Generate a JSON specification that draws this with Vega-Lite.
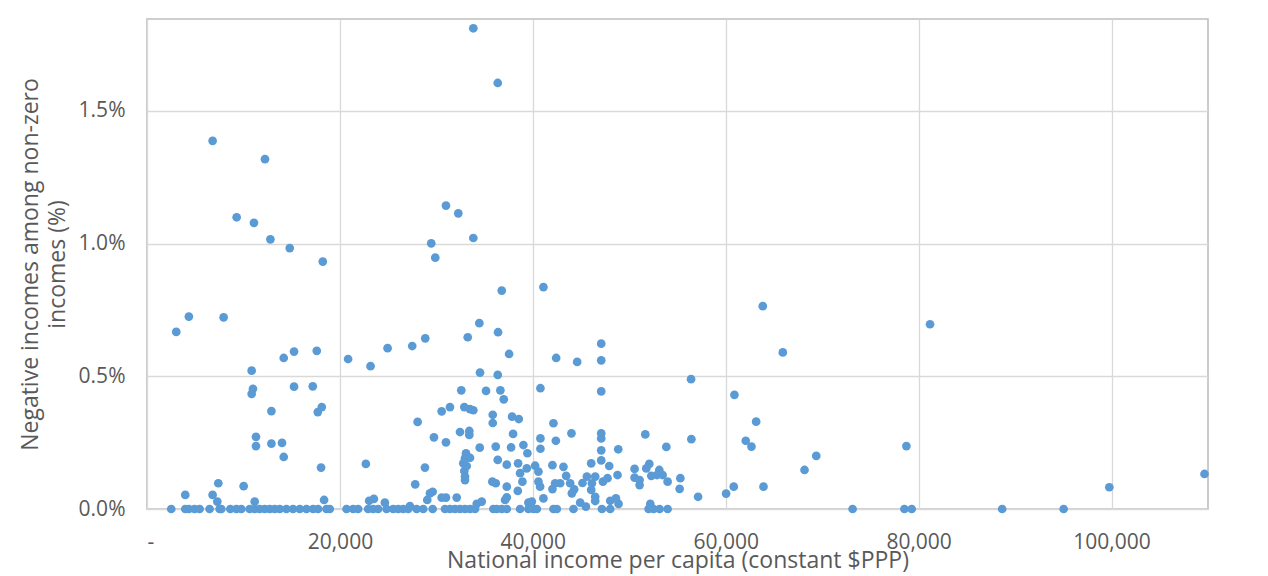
{
  "$schema": "https://vega.github.io/schema/vega-lite/v6.json",
  "width": 1061,
  "height": 490,
  "autosize": {"type": "none"},
  "padding": {"left": 147, "top": 19, "right": 60, "bottom": 67},
  "background": "white",
  "config": {
    "view": {"stroke": "#bfbfbf", "strokeWidth": 1.6},
    "axis": {
      "domain": false,
      "ticks": false,
      "grid": true,
      "gridColor": "#d9d9d9",
      "gridWidth": 1.3,
      "labelFont": "Open Sans",
      "labelFontSize": 21,
      "labelColor": "#595959",
      "titleFont": "Open Sans",
      "titleFontSize": 23,
      "titleFontWeight": "normal",
      "titleColor": "#595959"
    }
  },
  "data": {
    "values": [
      {"income": 33831, "neg": 0.01811}, {"income": 36365, "neg": 0.01605}, {"income": 6802, "neg": 0.01387}, {"income": 12232, "neg": 0.01318},
      {"income": 9294, "neg": 0.01099}, {"income": 11090, "neg": 0.01078}, {"income": 12793, "neg": 0.01016}, {"income": 14797, "neg": 0.00983},
      {"income": 18224, "neg": 0.00932}, {"income": 30996, "neg": 0.01143}, {"income": 32273, "neg": 0.01114}, {"income": 33831, "neg": 0.01021},
      {"income": 29470, "neg": 0.01001}, {"income": 29885, "neg": 0.00947}, {"income": 36780, "neg": 0.00823}, {"income": 41100, "neg": 0.00836},
      {"income": 3032, "neg": 0.00667}, {"income": 4341, "neg": 0.00725}, {"income": 7944, "neg": 0.00722}, {"income": 10851, "neg": 0.00521},
      {"income": 10986, "neg": 0.00453}, {"income": 10851, "neg": 0.00434}, {"income": 14174, "neg": 0.00569}, {"income": 15244, "neg": 0.00593},
      {"income": 17601, "neg": 0.00596}, {"income": 15244, "neg": 0.00461}, {"income": 17186, "neg": 0.00462}, {"income": 12897, "neg": 0.00369},
      {"income": 18120, "neg": 0.00384}, {"income": 17705, "neg": 0.00365}, {"income": 11298, "neg": 0.00272}, {"income": 11298, "neg": 0.00237},
      {"income": 12897, "neg": 0.00246}, {"income": 13998, "neg": 0.00249}, {"income": 14174, "neg": 0.00196}, {"income": 18047, "neg": 0.00156},
      {"income": 20851, "neg": 0.00565}, {"income": 23177, "neg": 0.00538}, {"income": 24943, "neg": 0.00606}, {"income": 27497, "neg": 0.00614},
      {"income": 28847, "neg": 0.00643}, {"income": 33250, "neg": 0.00647}, {"income": 34454, "neg": 0.007}, {"income": 36396, "neg": 0.00666},
      {"income": 37539, "neg": 0.00584}, {"income": 42419, "neg": 0.00569}, {"income": 34527, "neg": 0.00514}, {"income": 36365, "neg": 0.00505},
      {"income": 32585, "neg": 0.00447}, {"income": 35150, "neg": 0.00445}, {"income": 36635, "neg": 0.00447}, {"income": 36988, "neg": 0.00413},
      {"income": 40788, "neg": 0.00455}, {"income": 30550, "neg": 0.00368}, {"income": 31412, "neg": 0.00384}, {"income": 32897, "neg": 0.00384},
      {"income": 33488, "neg": 0.00376}, {"income": 33831, "neg": 0.00372}, {"income": 35846, "neg": 0.00355}, {"income": 35846, "neg": 0.00324},
      {"income": 37850, "neg": 0.00348}, {"income": 38545, "neg": 0.00339}, {"income": 28058, "neg": 0.00328}, {"income": 32450, "neg": 0.0029},
      {"income": 33416, "neg": 0.00294}, {"income": 33416, "neg": 0.00279}, {"income": 29750, "neg": 0.0027}, {"income": 30996, "neg": 0.00251},
      {"income": 37954, "neg": 0.00283}, {"income": 42138, "neg": 0.00323}, {"income": 40788, "neg": 0.00266}, {"income": 42388, "neg": 0.00257},
      {"income": 34496, "neg": 0.00231}, {"income": 36157, "neg": 0.00235}, {"income": 37746, "neg": 0.00232}, {"income": 39023, "neg": 0.00241},
      {"income": 40788, "neg": 0.00227}, {"income": 39438, "neg": 0.0021}, {"income": 33073, "neg": 0.0021}, {"income": 32969, "neg": 0.00191},
      {"income": 33488, "neg": 0.00193}, {"income": 32793, "neg": 0.00172}, {"income": 33146, "neg": 0.00162}, {"income": 32897, "neg": 0.00143},
      {"income": 32969, "neg": 0.00122}, {"income": 32969, "neg": 0.00109}, {"income": 36365, "neg": 0.00185}, {"income": 37299, "neg": 0.00167},
      {"income": 38473, "neg": 0.00172}, {"income": 38680, "neg": 0.00135}, {"income": 39376, "neg": 0.00153}, {"income": 40238, "neg": 0.00163},
      {"income": 40581, "neg": 0.00141}, {"income": 42034, "neg": 0.00165}, {"income": 38919, "neg": 0.00103}, {"income": 35804, "neg": 0.00103},
      {"income": 36157, "neg": 0.00097}, {"income": 37299, "neg": 0.00084}, {"income": 38441, "neg": 0.00068}, {"income": 40581, "neg": 0.00103},
      {"income": 40757, "neg": 0.00084}, {"income": 41100, "neg": 0.0004}, {"income": 42034, "neg": 0.00075}, {"income": 42315, "neg": 0.00097},
      {"income": 27808, "neg": 0.00093}, {"income": 22689, "neg": 0.0017}, {"income": 28816, "neg": 0.00156}, {"income": 29615, "neg": 0.00065},
      {"income": 29335, "neg": 0.00059}, {"income": 30550, "neg": 0.00043}, {"income": 30996, "neg": 0.00043}, {"income": 32108, "neg": 0.00043},
      {"income": 29055, "neg": 0.00034}, {"income": 34184, "neg": 0.00019}, {"income": 34703, "neg": 0.00028}, {"income": 37123, "neg": 0.00034},
      {"income": 37299, "neg": 0.00044}, {"income": 39543, "neg": 0.00024}, {"income": 39895, "neg": 0.00028}, {"income": 3967, "neg": 0.00053},
      {"income": 6802, "neg": 0.00053}, {"income": 7393, "neg": 0.00097}, {"income": 7290, "neg": 0.00028}, {"income": 10021, "neg": 0.00086},
      {"income": 11163, "neg": 0.00028}, {"income": 18359, "neg": 0.00034}, {"income": 23032, "neg": 0.00031}, {"income": 23520, "neg": 0.00038},
      {"income": 24662, "neg": 0.00024}, {"income": 27258, "neg": 0.00011}, {"income": 63841, "neg": 0.00764}, {"income": 65918, "neg": 0.0059},
      {"income": 44599, "neg": 0.00554}, {"income": 47091, "neg": 0.00623}, {"income": 47091, "neg": 0.0056}, {"income": 47091, "neg": 0.00443},
      {"income": 56406, "neg": 0.00489}, {"income": 60902, "neg": 0.0043}, {"income": 44007, "neg": 0.00285}, {"income": 47091, "neg": 0.00285},
      {"income": 47091, "neg": 0.00266}, {"income": 47091, "neg": 0.00221}, {"income": 47091, "neg": 0.00183}, {"income": 48857, "neg": 0.00225},
      {"income": 51660, "neg": 0.00281}, {"income": 53841, "neg": 0.00234}, {"income": 56437, "neg": 0.00263}, {"income": 62076, "neg": 0.00257},
      {"income": 62667, "neg": 0.00235}, {"income": 63155, "neg": 0.00329}, {"income": 68171, "neg": 0.00147}, {"income": 69386, "neg": 0.002},
      {"income": 60830, "neg": 0.00084}, {"income": 63914, "neg": 0.00084}, {"income": 60040, "neg": 0.00058}, {"income": 57133, "neg": 0.00046},
      {"income": 43177, "neg": 0.00159}, {"income": 43457, "neg": 0.00125}, {"income": 42834, "neg": 0.00097}, {"income": 43872, "neg": 0.00097},
      {"income": 44288, "neg": 0.00074}, {"income": 44049, "neg": 0.00059}, {"income": 45150, "neg": 0.00098}, {"income": 45606, "neg": 0.00122},
      {"income": 46052, "neg": 0.00172}, {"income": 46468, "neg": 0.00122}, {"income": 46126, "neg": 0.00097}, {"income": 46052, "neg": 0.00072},
      {"income": 46468, "neg": 0.00046}, {"income": 46468, "neg": 0.0003}, {"income": 47268, "neg": 0.00103}, {"income": 47746, "neg": 0.00116},
      {"income": 47922, "neg": 0.00162}, {"income": 48784, "neg": 0.00128}, {"income": 48026, "neg": 0.00031}, {"income": 48618, "neg": 0.0004},
      {"income": 48888, "neg": 0.00019}, {"income": 44911, "neg": 0.00024}, {"income": 45503, "neg": 0.00009}, {"income": 50549, "neg": 0.00151},
      {"income": 50549, "neg": 0.00118}, {"income": 51069, "neg": 0.00109}, {"income": 51069, "neg": 0.0009}, {"income": 52076, "neg": 0.0017},
      {"income": 51764, "neg": 0.00153}, {"income": 52284, "neg": 0.00125}, {"income": 53115, "neg": 0.00147}, {"income": 52875, "neg": 0.00128},
      {"income": 53457, "neg": 0.00128}, {"income": 53976, "neg": 0.00103}, {"income": 55295, "neg": 0.00116}, {"income": 55222, "neg": 0.00076},
      {"income": 52180, "neg": 0.00019}, {"income": 81182, "neg": 0.00696}, {"income": 78732, "neg": 0.00237}, {"income": 99770, "neg": 0.00082},
      {"income": 109634, "neg": 0.00132},
      {"income": 2513, "neg": 0}, {"income": 3967, "neg": 0}, {"income": 4341, "neg": 0}, {"income": 4932, "neg": 0}, {"income": 5452, "neg": 0},
      {"income": 6490, "neg": 0}, {"income": 7528, "neg": 0}, {"income": 7705, "neg": 0}, {"income": 8639, "neg": 0}, {"income": 9263, "neg": 0},
      {"income": 9782, "neg": 0}, {"income": 10644, "neg": 0}, {"income": 11163, "neg": 0}, {"income": 11682, "neg": 0}, {"income": 12201, "neg": 0},
      {"income": 12720, "neg": 0}, {"income": 13240, "neg": 0}, {"income": 13759, "neg": 0}, {"income": 14455, "neg": 0}, {"income": 15140, "neg": 0},
      {"income": 15836, "neg": 0}, {"income": 16531, "neg": 0}, {"income": 17217, "neg": 0}, {"income": 17736, "neg": 0}, {"income": 18608, "neg": 0},
      {"income": 18951, "neg": 0}, {"income": 20685, "neg": 0}, {"income": 21370, "neg": 0}, {"income": 21889, "neg": 0}, {"income": 22928, "neg": 0},
      {"income": 23447, "neg": 0}, {"income": 23966, "neg": 0}, {"income": 24839, "neg": 0}, {"income": 25524, "neg": 0}, {"income": 26043, "neg": 0},
      {"income": 26562, "neg": 0}, {"income": 27081, "neg": 0}, {"income": 27954, "neg": 0}, {"income": 28639, "neg": 0}, {"income": 29615, "neg": 0},
      {"income": 30892, "neg": 0}, {"income": 31412, "neg": 0}, {"income": 31931, "neg": 0}, {"income": 32450, "neg": 0}, {"income": 32970, "neg": 0},
      {"income": 33488, "neg": 0}, {"income": 34008, "neg": 0}, {"income": 35908, "neg": 0}, {"income": 36261, "neg": 0}, {"income": 36780, "neg": 0},
      {"income": 37299, "neg": 0}, {"income": 38680, "neg": 0}, {"income": 39543, "neg": 0}, {"income": 40062, "neg": 0}, {"income": 40415, "neg": 0},
      {"income": 42138, "neg": 0}, {"income": 42491, "neg": 0}, {"income": 44215, "neg": 0}, {"income": 47164, "neg": 0}, {"income": 48026, "neg": 0},
      {"income": 52003, "neg": 0}, {"income": 52522, "neg": 0}, {"income": 53145, "neg": 0}, {"income": 53976, "neg": 0}, {"income": 73155, "neg": 0},
      {"income": 78524, "neg": 0}, {"income": 79282, "neg": 0}, {"income": 88659, "neg": 0}, {"income": 95034, "neg": 0}
    ]
  },
  "mark": {"type": "circle", "size": 76, "color": "#5b9bd5", "opacity": 1},
  "encoding": {
    "x": {
      "field": "income",
      "type": "quantitative",
      "scale": {"domain": [0, 110000], "nice": false, "zero": true},
      "axis": {
        "values": [0, 20000, 40000, 60000, 80000, 100000],
        "labelExpr": "datum.value == 0 ? '-' : format(datum.value, ',')",
        "labelPadding": 22,
        "title": "National income per capita (constant $PPP)",
        "titlePadding": -3
      }
    },
    "y": {
      "field": "neg",
      "type": "quantitative",
      "scale": {"domain": [0, 0.01846], "nice": false},
      "axis": {
        "values": [0, 0.005, 0.01, 0.015],
        "format": ".1%",
        "labelPadding": 22,
        "title": ["Negative incomes among non-zero", "incomes (%)"],
        "titleLineHeight": 27,
        "titlePadding": 9
      }
    }
  }
}
